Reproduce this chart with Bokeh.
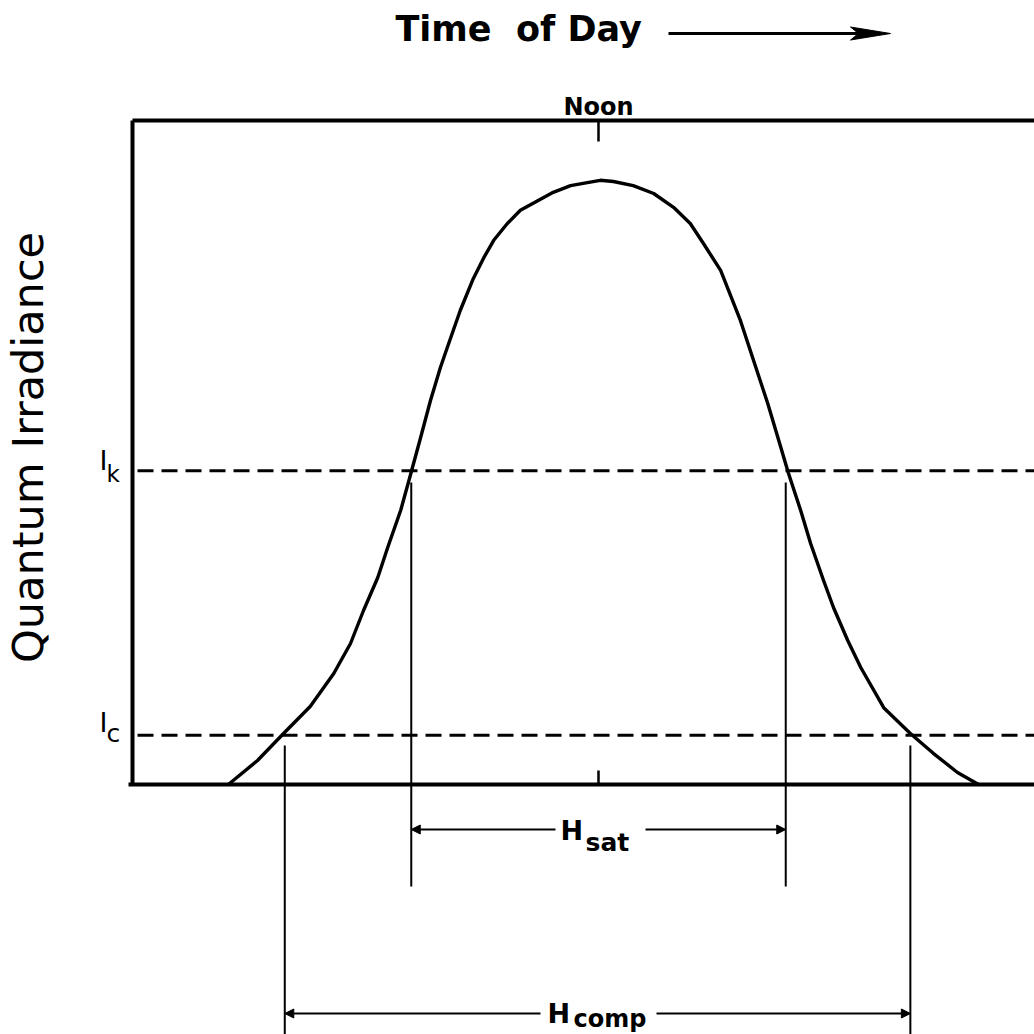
from math import pi
from bokeh.plotting import figure
from bokeh.models import Range1d, Arrow, NormalHead
from bokeh.core.properties import value
from bokeh.embed import file_html
from bokeh.resources import INLINE

# ---------------- data ----------------
# time of day (hours) and relative quantum irradiance
hours = [6.03, 6.50, 6.92, 7.35, 7.73, 8.00, 8.21, 8.44, 8.60, 8.81, 8.97, 9.13,
         9.29, 9.45, 9.56, 9.77, 9.98, 10.15, 10.31, 10.53, 10.74, 11.02, 11.27,
         11.55, 11.82, 12.03, 12.24, 12.56, 12.89, 13.21, 13.48, 13.69, 13.97,
         14.08, 14.29, 14.50, 14.73, 14.94, 15.06, 15.26, 15.42, 15.63, 15.79,
         16.02, 16.23, 16.60, 17.03, 17.40, 17.79, 18.13]
irradiance = [0.0, 4.0, 8.5, 13.0, 18.5, 23.5, 29.0, 34.5, 39.5, 45.7, 51.7, 57.8,
              64.0, 69.5, 72.8, 79.0, 84.3, 87.8, 90.7, 93.5, 95.7, 97.3, 98.7,
              99.8, 100.3, 100.7, 100.5, 99.8, 98.5, 96.2, 93.5, 90.2, 85.7,
              82.8, 77.3, 70.7, 63.5, 56.2, 52.0, 45.7, 40.2, 34.0, 29.5,
              24.0, 19.5, 12.8, 8.5, 5.2, 2.0, 0.0]
noon = 12.0
ik_level = 52.3      # I_k  (saturation onset)
ic_level = 8.2       # I_c  (compensation)
sat_times = [8.98, 15.02]    # curve crosses I_k
comp_times = [6.94, 17.03]   # curve crosses I_c
title_text = "Time\u00a0 of Day"
y_label = "Quantum Irradiance"
noon_label = "Noon"

# ---------------- layout helpers (page pixels -> data) ----------------
W = H = 1034
PX_PER_HOUR = 62.0
PX_PER_UNIT = 6.0
NOON_PX = 598.0
BASE_PX = 784.0

def px(x):   # page x pixel -> hours
    return noon + (x - NOON_PX) / PX_PER_HOUR

def py(y):   # page y pixel -> irradiance units
    return (BASE_PX - y) / PX_PER_UNIT

p = figure(width=W, height=H, output_backend="svg", toolbar_location=None,
           x_range=Range1d(px(0), px(W)), y_range=Range1d(py(H), py(0)),
           x_axis_type=None, y_axis_type=None, min_border=0,
           outline_line_color=None, background_fill_color="white",
           border_fill_color="white")
p.grid.visible = False

FONT = value("DejaVu Sans")
frame_left = px(132)
frame_top = py(120)
right_edge = px(1040)

def label(x_px, base_px, s, size, bold=False, align="left"):
    p.text(x=[px(x_px)], y=[py(base_px - 0.36 * size)], text=[s], text_font=FONT,
           text_font_style="bold" if bold else "normal",
           text_font_size=f"{size}px", text_baseline="alphabetic", text_align=align,
           text_color="black")

# frame (left, top, bottom)
p.segment(x0=[frame_left, frame_left, px(128)], y0=[frame_top, frame_top, 0],
          x1=[frame_left, right_edge, right_edge], y1=[0, frame_top, 0],
          line_color="black", line_width=4)
# noon ticks
p.segment(x0=[noon, noon], y0=[frame_top, 0], x1=[noon, noon],
          y1=[py(141), py(770)], line_color="black", line_width=2.5)

# dashed reference levels
p.segment(x0=[px(137), px(137)], y0=[ik_level, ic_level],
          x1=[right_edge, right_edge], y1=[ik_level, ic_level],
          line_color="black", line_width=3, line_dash="16 8")

# irradiance curve
p.line(hours, irradiance, line_color="black", line_width=3.4,
       line_join="round", line_cap="round")

# vertical drop lines
p.segment(x0=sat_times, y0=[py(482)] * 2, x1=sat_times, y1=[py(886)] * 2,
          line_color="black", line_width=2)
p.segment(x0=comp_times, y0=[py(745)] * 2, x1=comp_times, y1=[py(1040)] * 2,
          line_color="black", line_width=2)

# H_sat and H_comp dimension arrows
def dim_arrow(x_from, x_to, yv):
    p.add_layout(Arrow(end=NormalHead(size=9, fill_color="black", line_color="black"),
                       x_start=x_from, y_start=yv, x_end=x_to, y_end=yv,
                       line_color="black", line_width=2))

y_sat = py(829)
dim_arrow(px(555), sat_times[0], y_sat)
dim_arrow(px(645), sat_times[1], y_sat)
y_comp = py(1013)
dim_arrow(px(540), comp_times[0], y_comp)
dim_arrow(px(656), comp_times[1], y_comp)

label(560, 840, "H", 27, bold=True)
label(585, 851, "sat", 25, bold=True)
label(547, 1023, "H", 27, bold=True)
label(573, 1027, "comp", 24, bold=True)

# I_k, I_c labels
label(99, 470, "I", 27)
label(106, 482, "k", 23)
label(99, 732, "I", 27)
label(106, 742, "c", 25)

# Noon label
label(598, 115, noon_label, 24, bold=True, align="center")

# y-axis label (rotated; baseline on the right side of the glyphs)
p.text(x=[px(43 - 0.36 * 43)], y=[py(447)], text=[y_label], angle=pi / 2,
       text_font=FONT, text_font_size="43px", text_baseline="alphabetic",
       text_align="center", text_color="black")

# title with arrow
label(395, 41, title_text, 35, bold=True)
t_y = py(33)
t_x0, t_x1 = px(668), px(890)
head_len, head_half = 40 / PX_PER_HOUR, 6.5 / PX_PER_UNIT
p.segment(x0=[t_x0], y0=[t_y], x1=[t_x1 - head_len * 0.5], y1=[t_y],
          line_color="black", line_width=3)
p.patch(x=[t_x1, t_x1 - head_len, t_x1 - head_len * 0.8, t_x1 - head_len],
        y=[t_y, t_y + head_half, t_y, t_y - head_half],
        fill_color="black", line_color="black", line_width=1)

open("out.html", "w").write(file_html(p, INLINE))
